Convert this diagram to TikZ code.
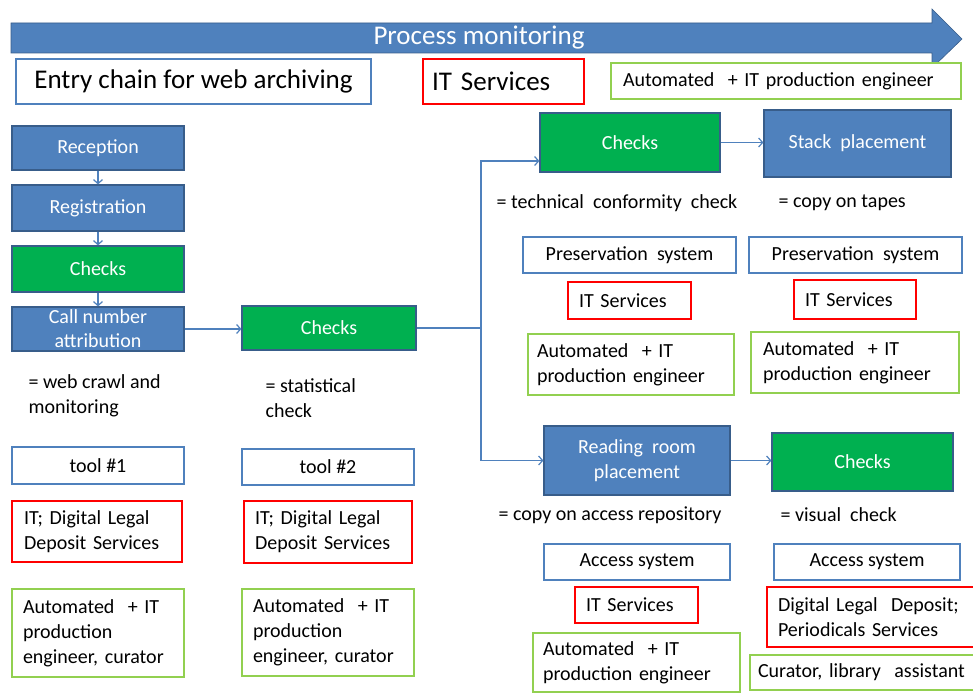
\documentclass[tikz,border=0pt]{standalone}
\usepackage{fontspec}
\setmainfont{Carlito}
\usetikzlibrary{arrows.meta,calc}
\definecolor{bfill}{HTML}{4F81BD}
\definecolor{bborder}{HTML}{385D8A}
\definecolor{gfill}{HTML}{00B050}
\definecolor{bline}{HTML}{4F81BD}
\definecolor{rline}{HTML}{FF0000}
\definecolor{lgreen}{HTML}{92D050}
\begin{document}
\begin{tikzpicture}[x=1pt,y=-1pt,
  base/.style={font=\fontsize{20}{25}\selectfont, inner sep=0pt, line width=1.2pt},
  big/.style={font=\fontsize{27}{30}\selectfont},
  filledb/.style={base, fill=bfill, draw=bborder, text=white, align=center},
  filledg/.style={base, fill=gfill, draw=bborder, text=white, align=center},
  obox/.style={base, draw=bline, fill=white, align=center},
  rbox/.style={base, draw=rline, fill=white},
  gbox/.style={base, draw=lgreen, fill=white},
  wh/.style 2 args={minimum width=#1pt, minimum height=#2pt},
  lt/.style={text width=#1pt, align=left},
  lab/.style={base, anchor=west, align=left},
  conn/.style={draw=bline, line width=1.2pt, -{Straight Barb[length=4pt,width=9pt,line width=1.2pt]}},
]
\useasboundingbox (0,0) rectangle (973,693);

% big arrow
\fill[bfill, draw=bborder, line width=0.6pt] (11,23) -- (932,23) -- (932,9) -- (962,39) -- (932,68) -- (932,53) -- (11,53) -- cycle;
\node[base, big, text=white] (pm) at (479,38) {Process monitoring};

% header boxes
\node[obox, big, wh={355}{45}] (entry) at (193.5,81.5) {Entry chain for web archiving};
\node[rbox, big, wh={161}{45}, lt={143}] (itstop) at (503.5,81.5) {IT Services};
\node[gbox, wh={350}{36}, lt={326}] (autotop) at (786,81) {Automated\ \ + IT production engineer};

% left chain
\node[filledb, wh={172}{44}] (rec) at (98,148) {Reception};
\node[filledb, wh={172}{46}] (reg) at (98,208) {Registration};
\node[filledg, wh={172}{46}] (chkA) at (98,269) {Checks};
\node[filledb, wh={172}{44}, font=\fontsize{20}{24}\selectfont] (call) at (98,329) {Call number\\attribution};
\node[filledg, wh={174}{44}] (chkB) at (329,328) {Checks};

\node[lab] (l1) at (28,395.5) {= web crawl and\\monitoring};
\node[lab] (l2) at (265,398.5) {= statistical\\check};

\node[obox, wh={172}{37}] (tool1) at (98,465.5) {tool \#1};
\node[obox, wh={172}{36}] (tool2) at (328,467) {tool \#2};
\node[rbox, wh={170}{61}, lt={146}] (r1) at (97,531.5) {IT; Digital Legal\\Deposit Services};
\node[rbox, wh={168}{62}, lt={146}] (r2) at (328,532) {IT; Digital Legal\\Deposit Services};
\node[gbox, wh={172}{88}, lt={150}] (g1) at (98,633) {Automated\ \ + IT\\production\\engineer, curator};
\node[gbox, wh={172}{87}, lt={150}] (g2) at (328,632.5) {Automated\ \ + IT\\production\\engineer, curator};

% right top
\node[filledg, wh={180}{59}] (chkC) at (630,142.5) {Checks};
\node[filledb, wh={187}{67}] (stack) at (857.5,143.5) {Stack\ \ placement};
\node[lab] (l3) at (496,203) {= technical\ \ conformity\ \ check};
\node[lab] (l4) at (778,203) {= copy on tapes};
\node[obox, wh={213}{36}] (pres1) at (629.5,255) {Preservation\ \ system};
\node[obox, wh={213}{36}] (pres2) at (855.5,255) {Preservation\ \ system};
\node[rbox, wh={123}{37}, lt={101}] (its1) at (629.5,300.5) {IT Services};
\node[rbox, wh={122}{39}, lt={100}] (its2) at (855,299.5) {IT Services};
\node[gbox, wh={206}{61}, lt={188}] (a1) at (631,364.5) {Automated\ \ + IT\\production engineer};
\node[gbox, wh={208}{61}, lt={184}] (a2) at (855,362.5) {Automated\ \ + IT\\production engineer};

% right bottom
\node[filledb, wh={186}{69}] (read) at (637,460.5) {Reading\ \ room\\placement};
\node[filledg, wh={181}{58}] (chkD) at (862.5,462) {Checks};
\node[lab] (l5) at (498,515) {= copy on access repository};
\node[lab] (l6) at (780,515) {= visual\ \ check};
\node[obox, wh={186}{36}] (acc1) at (637,562) {Access system};
\node[obox, wh={186}{36}] (acc2) at (867,562) {Access system};
\node[rbox, wh={123}{36}, lt={101}] (its3) at (636.5,605) {IT Services};
\node[rbox, wh={218}{60}, lt={196}] (dld) at (876,617) {Digital Legal\ \ Deposit;\\Periodicals Services};
\node[gbox, wh={207}{59}, lt={187}] (a3) at (636.5,662.5) {Automated\ \ + IT\\production engineer};
\node[gbox, wh={235}{35}, lt={219}] (cur) at (867.5,672.5) {Curator,\ library\ \ assistant};

% connectors
\draw[conn] (rec) -- (reg);
\draw[conn] (reg) -- (chkA);
\draw[conn] (chkA) -- (call);
\draw[conn] (call.east) -- (call.east -| chkB.west);
\coordinate (jn) at (481,328);
\draw[conn] (chkB.east) -- (jn) |- ($(chkC.west)+(0,18.5)$);
\draw[conn] (jn) |- (read.west);
\draw[conn] (chkC.east) -- (chkC.east -| stack.west);
\draw[conn] (read.east) -- (read.east -| chkD.west);
\end{tikzpicture}
\end{document}
